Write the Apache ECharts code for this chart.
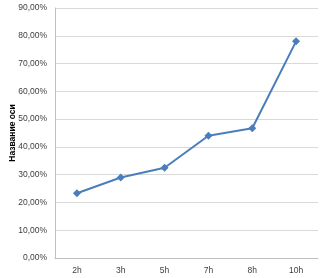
<!DOCTYPE html>
<html><head><meta charset="utf-8">
<script src="https://cdn.jsdelivr.net/npm/echarts@6/dist/echarts.min.js"></script>
<style>html,body{margin:0;padding:0;background:#fff}#c{width:328px;height:278px}</style>
</head><body><div id="c"></div>
<script>
var categories = ['2h','3h','5h','7h','8h','10h'];
var values = [23.3, 29.0, 32.5, 44.0, 46.7, 78.0];
var axisName = 'Название оси';
var chart = echarts.init(document.getElementById('c'), null, {renderer:'canvas'});
chart.setOption({
  animation:false,
  grid:{left:55, right:10, top:8, bottom:20, containLabel:false, outerBoundsMode:'none'},
  xAxis:{type:'category', data:categories, boundaryGap:true,
    axisLine:{lineStyle:{color:'#bfbfbf'}}, axisTick:{show:false},
    axisLabel:{color:'#404040', fontSize:8.5, fontFamily:'Liberation Sans', margin:8}},
  yAxis:{type:'value', min:0, max:90, interval:10,
    name:axisName, nameLocation:'middle', nameGap:38, nameRotate:90, nameMoveOverlap:false,
    nameTextStyle:{fontSize:8.5, fontWeight:'bold', color:'#000', fontFamily:'Liberation Sans'},
    axisLine:{show:true, lineStyle:{color:'#bfbfbf'}}, axisTick:{show:false},
    splitLine:{lineStyle:{color:'#d9d9d9'}},
    axisLabel:{color:'#404040', fontSize:8.5, fontFamily:'Liberation Sans', margin:8,
      formatter:function(v){return v.toFixed(2).replace('.',',')+'%';}}},
  series:[{type:'line', data:values, symbol:'diamond', symbolSize:8,
    lineStyle:{color:'#4a7ebb', width:2}, itemStyle:{color:'#4a7ebb'}}]
});
</script></body></html>
